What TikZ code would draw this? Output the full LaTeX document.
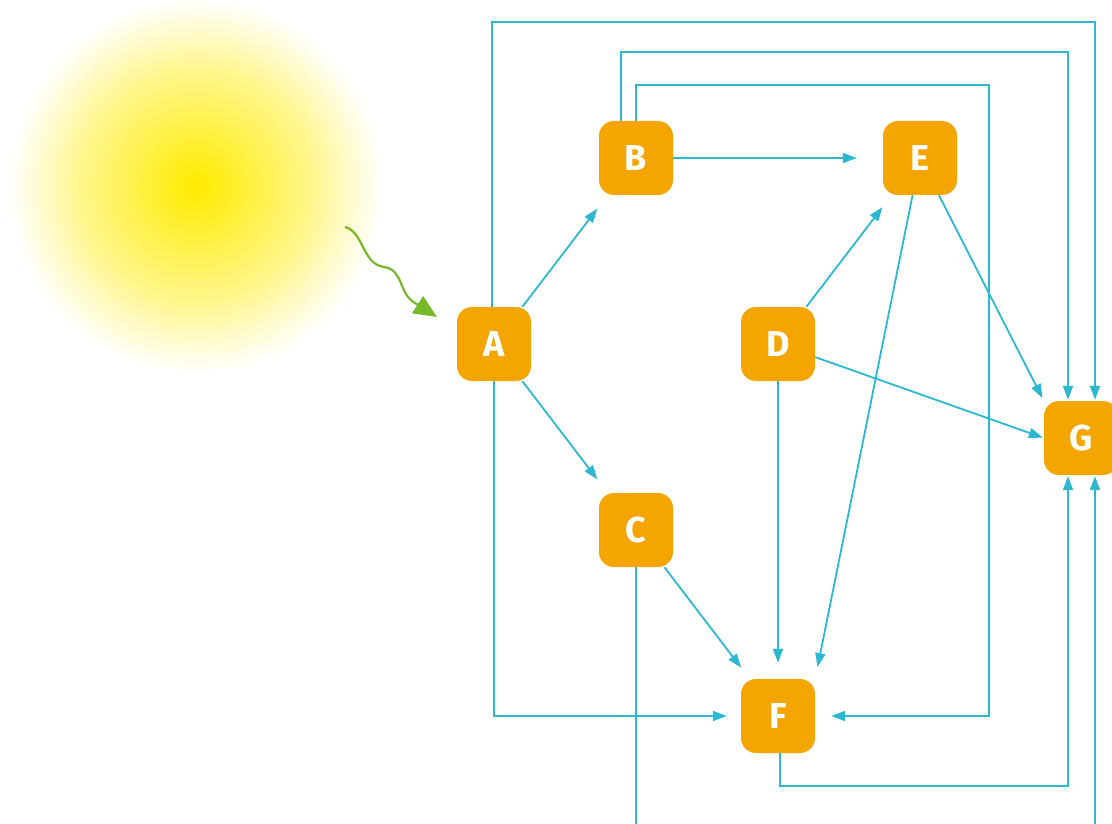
\documentclass[tikz,border=0pt]{standalone}
\usepackage{fontspec}
\setsansfont{Fira Sans}
\usetikzlibrary{arrows.meta,calc}
\definecolor{nodeor}{HTML}{F5A500}
\definecolor{edgec}{HTML}{2BB8D0}
\definecolor{sunY}{HTML}{FFEB00}
\definecolor{greenarr}{HTML}{76B82A}
\colorlet{sunA}{sunY!94!white}
\colorlet{sunB}{sunY!70!white}
\colorlet{sunC}{sunY!45!white}
\colorlet{sunD}{sunY!18!white}
\pgfdeclareradialshading{sunshade}{\pgfpoint{0bp}{0bp}}{color(0bp)=(sunY); color(2bp)=(sunA); color(8.5bp)=(sunB); color(15.5bp)=(sunC); color(21bp)=(sunD); color(25bp)=(white); color(50bp)=(white)}
\tikzset{
  box/.style={fill=nodeor, rounded corners=15pt, minimum width=74pt, minimum height=74pt, inner sep=0pt, text=white, font=\sffamily\bfseries\fontsize{36}{36}\selectfont},
  conn/.style={draw=edgec, line width=1.8pt, -{Triangle[length=14pt,width=10pt]}},
  plain/.style={draw=edgec, line width=1.8pt},
  wavy/.style={draw=greenarr, line width=2.2pt, -{Triangle[length=23pt,width=20pt]}}
}
\begin{document}
\begin{tikzpicture}[x=1pt,y=-1pt]
\useasboundingbox (0,0) rectangle (1112,824);
\shade[shading=sunshade] (196,186) circle (188);
\node[box] (A) at (494,344) {A};
\node[box] (B) at (636,158) {B};
\node[box] (C) at (636,530) {C};
\node[box] (D) at (778,344) {D};
\node[box] (E) at (920,158) {E};
\node[box] (F) at (778,716) {F};
\node[box] (G) at (1081,438) {G};
\coordinate (s0) at (345,227);
\coordinate (s1) at (437,317);
\draw[wavy] (s0) .. controls (364,232) and (362,264) .. (384,267) .. controls (404,270) and (398,293) .. (415,303) -- (s1);
\coordinate (t1) at (1095,22);
\coordinate (t2) at (1068,52);
\coordinate (t3) at (989,85);
\coordinate (b1) at (1068,786);
\coordinate (cb) at (636,830);
\coordinate (gb) at (1095,830);
\draw[conn, shorten >=17pt] (A) -- (B);
\draw[conn, shorten >=17pt] (A) -- (C);
\draw[conn, shorten >=26pt] (B) -- (E);
\draw[conn, shorten >=15pt] (D) -- (E);
\draw[conn, shorten >=1pt] (D) -- (G.west);
\draw[conn, shorten >=3pt] (E) -- (G.north west);
\draw[conn, shorten >=12pt] (E) -- (F.north east);
\draw[conn, shorten >=16pt] (D) -- (F);
\draw[conn, shorten >=14pt] (C) -- (F);
\draw[conn, shorten >=14pt] (A.south) |- (F.west);
\draw[conn, shorten >=1pt] ([xshift=-2pt]A.north) |- (t1) -- ([xshift=14pt]G.north);
\draw[conn, shorten >=1pt] ([xshift=-15pt]B.north) |- (t2) -- ([xshift=-13pt]G.north);
\draw[conn, shorten >=16pt] (B.north) |- (t3) |- (F.east);
\draw[conn, shorten >=1pt] ([xshift=2pt]F.south) |- (b1) -- ([xshift=-13pt]G.south);
\draw[plain] (C.south) -- (cb);
\draw[conn, shorten >=1pt] (gb) -- ([xshift=14pt]G.south);
\end{tikzpicture}
\end{document}
